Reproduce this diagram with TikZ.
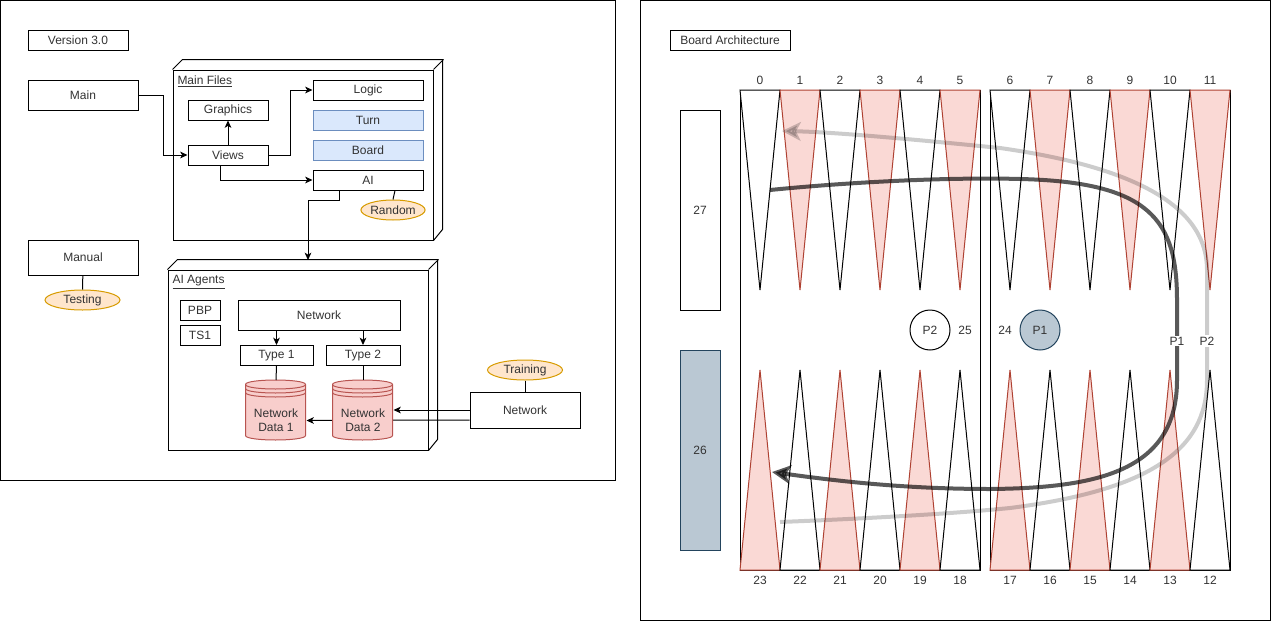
\documentclass[tikz,border=0pt]{standalone}
\usepackage{fontspec}
\setmainfont{Liberation Sans}
\usepackage{tikz}
\usetikzlibrary{arrows.meta,calc,positioning,shapes.geometric}
\definecolor{inkgray}{HTML}{333333}
\definecolor{turnblue}{HTML}{DAE8FC}
\definecolor{turnblueline}{HTML}{6C8EBF}
\definecolor{noteorange}{HTML}{FFE6CC}
\definecolor{noteorangeline}{HTML}{D79B00}
\definecolor{datared}{HTML}{F8CECC}
\definecolor{dataredline}{HTML}{B85450}
\definecolor{pointred}{HTML}{FAD9D5}
\definecolor{pointredline}{HTML}{AE4132}
\definecolor{barslate}{HTML}{BAC8D3}
\definecolor{barslateline}{HTML}{23445D}
% cylinder with the three rims of a data store
\newcommand{\datastore}[3]{%
  \node[dsbox] (#1) at (#2) {};
  \begin{scope}[shift={(#1.north west)}]
    \draw[draw=dataredline, fill=datared] (0,4.5) .. controls (0,-1.5) and (60,-1.5) .. (60,4.5)
      -- (60,55.5) .. controls (60,61.5) and (0,61.5) .. (0,55.5) -- cycle;
    \foreach \k in {0,4,8}
      \draw[dataredline] (0,4.5+\k) .. controls (0,10.5+\k) and (60,10.5+\k) .. (60,4.5+\k);
  \end{scope}
  \node[dstext] (#1text) at ($(#1.center)+(0,9.5)$) {#3};
}

\begin{document}
\begin{tikzpicture}[x=0.75pt, y=-0.75pt, line width=0.75pt,
  every node/.style={font=\fontsize{9}{10.5}\selectfont, text=inkgray},
  sz/.style 2 args={minimum width=#1*0.75pt, minimum height=#2*0.75pt},
  box/.style={draw=black, fill=white, inner sep=0pt},
  bluebox/.style={box, draw=turnblueline, fill=turnblue},
  tag/.style={ellipse, draw=noteorangeline, fill=noteorange, inner sep=0pt},
  flow/.style={-{Stealth[length=5.5pt, width=5pt, inset=1.5pt]}},
  dsbox/.style={sz={60}{60}, inner sep=0pt},
  dstext/.style={align=center, inner sep=0pt},
  whitept/.style={draw=black, fill=white},
  redpt/.style={draw=pointredline, fill=pointred},
  num/.style={inner sep=0pt},
  route/.style={line width=3pt, -{Stealth[length=14pt, width=14pt, inset=3.5pt]}}]
  \useasboundingbox (0,0) rectangle (1271,621);

  % --- Panels ---
  \draw (0.5,0.5) rectangle (615,480);
  \draw (640.5,0.5) rectangle (1270,620);

  % --- Left panel: software layout ---
  \node[box, sz={100}{20}] (ver) at (78,40) {Version 3.0};
  \node[box, sz={110}{30}] (main) at (83,95) {Main};
  \node[box, sz={110}{35}] (manual) at (83,257.5) {Manual};
  \node[tag, sz={75}{20}] (testing) at (82.5,300) {Testing};
  \draw (manual) -- (testing);

  % Main Files cube
  \node[box, sz={260}{170}] (mfiles) at (303,155) {};
  \draw (mfiles.north west) -- ++(10,-10) -- ++(260,0) -- ++(0,170) -- (mfiles.south east);
  \draw (mfiles.north east) -- ++(10,-10);
  \node[anchor=west, inner sep=0pt] (mflabel) at (177,81.5) {\underline{Main Files}};

  \node[box, sz={110}{20}] (logic) at (368,90) {Logic};
  \node[box, sz={80}{20}] (graphics) at (228,110) {Graphics};
  \node[bluebox, sz={110}{20}] (turn) at (368,120) {Turn};
  \node[bluebox, sz={110}{20}] (board) at (368,150) {Board};
  \node[box, sz={80}{20}] (views) at (228,155) {Views};
  \node[box, sz={110}{20}] (ai) at (368,180) {AI};
  \node[tag, sz={60}{20}] (random) at (393,210) {Random};
  \draw ($(ai.south)+(27,0)$) -- (random.north);

  \draw[flow] (main.east) -- ++(25,0) |- (views.west);
  \draw[flow] (views.north) -- (graphics.south);
  \draw[flow] (views.east) -- ++(22,0) |- (logic.west);
  \draw[flow] ($(views.south)+(-8,0)$) |- (ai.west);

  % AI Agents cube
  \node[box, sz={260}{180}] (agents) at (298,360) {};
  \draw (agents.north west) -- ++(10,-10) -- ++(260,0) -- ++(0,180) -- (agents.south east);
  \draw (agents.north east) -- ++(10,-10);
  \node[anchor=west, inner sep=0pt] (aglabel) at (172,282) {\underline{AI Agents}};
  \coordinate (agtop) at (308,260);
  \draw[flow] ($(ai.south west)+(27,0)$) -- ++(0,10) -| (agtop);

  \node[box, sz={40}{20}] (pbp) at (200,310) {PBP};
  \node[box, sz={40}{20}] (ts1) at (200,335) {TS1};
  \node[box, sz={162}{30}] (net) at (319,315) {Network};
  \node[box, sz={73}{20}] (type1) at (276.5,355.5) {Type 1};
  \node[box, sz={74}{20}] (type2) at (363,355.5) {Type 2};
  \draw[flow] (net.south -| type1.north) -- (type1.north);
  \draw[flow] (net.south -| type2.north) -- (type2.north);

  % training side
  \node[box, sz={110}{36}] (extnet) at (525,410) {Network};
  \node[tag, sz={75}{20}] (training) at (525,370) {Training};
  \draw (training.south) -- (extnet.north);

  \datastore{nd1}{276,410.5}{Network\\Data 1}
  \draw (type1.south) -- (nd1.north);
  \draw[flow] ($(extnet.west)+(0,10)$) -- ($(nd1.east)+(0,10)$);
  \datastore{nd2}{363,410.5}{Network\\Data 2}
  \draw (type2.south) -- (nd2.north);
  \draw[flow] (extnet.west) -- (extnet.west -| nd2.east);

  % --- Right panel: board ---
  \node[box, sz={120}{20}] (arch) at (730,40) {Board Architecture};
  \node[box, sz={40}{200}] (off27) at (700,210) {27};
  \node[box, draw=barslateline, fill=barslate, sz={40}{200}] (off26) at (700,450) {26};

  \draw (740,90) rectangle (980,570);
  \draw (990,90) rectangle (1230,570);

  % top points 0..11
  \foreach \i in {0,...,11}{
    \pgfmathsetmacro{\xl}{\i<6 ? 740+40*\i : 750+40*\i}
    \ifodd\i \def\ptstyle{redpt}\else \def\ptstyle{whitept}\fi
    \draw[\ptstyle] (\xl,90) -- ++(40,0) -- ++(-20,200) -- cycle;
    \node[num] (top\i) at (\xl+20,80) {\i};
  }
  % bottom points 23..12
  \foreach \k in {0,...,11}{
    \pgfmathtruncatemacro{\ptno}{23-\k}
    \pgfmathsetmacro{\xl}{\k<6 ? 740+40*\k : 750+40*\k}
    \ifodd\ptno \def\ptstyle{redpt}\else \def\ptstyle{whitept}\fi
    \draw[\ptstyle] (\xl,570) -- ++(40,0) -- ++(-20,-200) -- cycle;
    \node[num] (bot\ptno) at (\xl+20,580) {\ptno};
  }

  % --- Player routes ---
  \draw[route, black, opacity=0.2] (780,522) .. controls (880,518) and (960,513) .. (1010,508)
    .. controls (1150,490) and (1207,450) .. (1207,380) -- (1207,270)
    .. controls (1207,200) and (1120,165) .. (1000,148)
    .. controls (900,138) and (830,132) .. (782,131);
  \draw[route, black, opacity=0.65] (770,190) .. controls (850,182) and (950,177) .. (1020,179)
    .. controls (1150,182) and (1177,220) .. (1177,300) -- (1177,380)
    .. controls (1177,470) and (1100,488) .. (990,489)
    .. controls (900,489) and (830,480) .. (772,472);
  \node[fill=white, inner sep=1pt] (p1tag) at (1177,341) {P1};
  \node[fill=white, inner sep=1pt] (p2tag) at (1207,341) {P2};

  % --- Bar pieces ---
  \node[circle, draw=black, fill=white, sz={40}{40}, inner sep=0pt] (p2disc) at (930,330) {P2};
  \node[num] (bar25) at (965,330) {25};
  \node[num] (bar24) at (1005,330) {24};
  \node[circle, draw=barslateline, fill=barslate, sz={40}{40}, inner sep=0pt] (p1disc) at (1040,330) {P1};
\end{tikzpicture}
\end{document}
